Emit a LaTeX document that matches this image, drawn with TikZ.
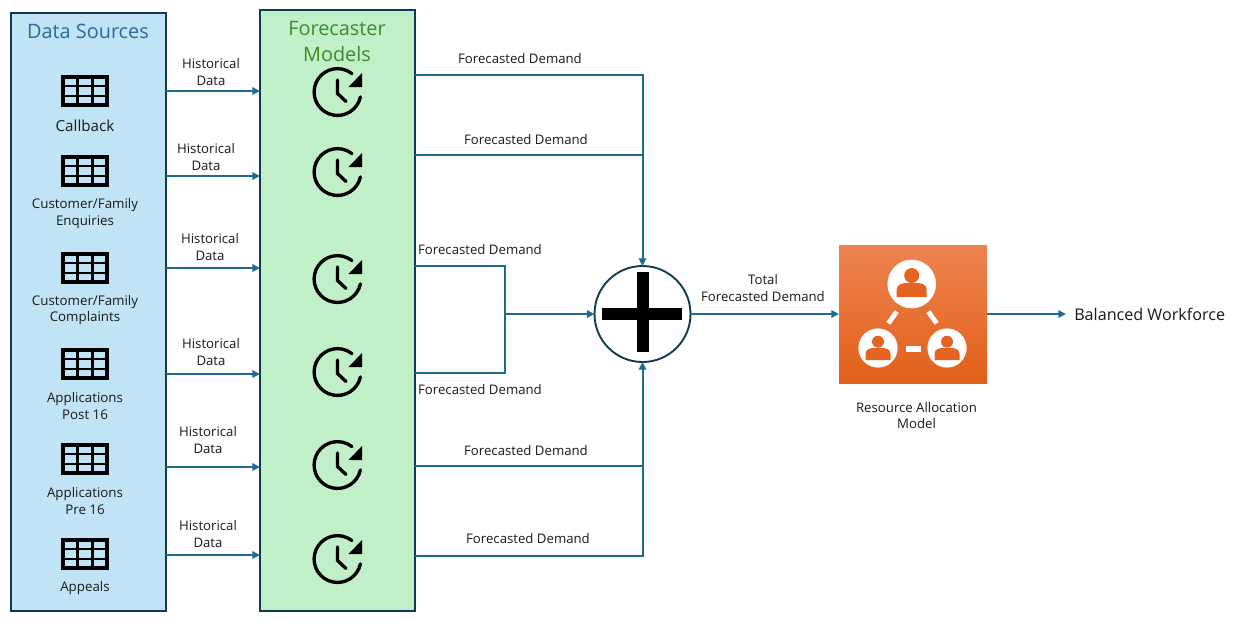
\documentclass[tikz,border=0pt]{standalone}
\usepackage{fontspec}
\setmainfont{Open Sans}
\usetikzlibrary{arrows.meta,calc}
\definecolor{flowc}{HTML}{1F6A8F}
\definecolor{edgec}{HTML}{0F3A4F}
\definecolor{dsfill}{HTML}{C0E4F5}
\definecolor{fmfill}{HTML}{C1F0C8}
\definecolor{dstitle}{HTML}{2A6A9E}
\definecolor{fmtitle}{HTML}{3F8A2A}
\definecolor{orangetop}{HTML}{EE8350}
\definecolor{orangebot}{HTML}{E2601A}
\definecolor{txt}{HTML}{1A1A1A}
\tikzset{
  x=0.75pt,y=-0.75pt,
  panel/.style={draw=edgec,line width=1.5pt,inner sep=0pt,outer sep=0pt,anchor=north west},
  flow/.style={draw=flowc,line width=1.5pt,-{Triangle[length=5.8pt,width=5.6pt]}},
  flowplain/.style={draw=flowc,line width=1.5pt},
  lbl/.style={align=center,text=txt,inner sep=0pt,font=\fontsize{9.9}{12.6}\selectfont},
  srclbl/.style={lbl,font=\fontsize{10}{12.6}\selectfont},
  title/.style={align=center,inner sep=0pt,font=\fontsize{14.9}{19.5}\selectfont},
  table icon/.pic={
    \draw[black,line width=2.6pt] (-22,-14) rectangle (22,14);
    \foreach \u in {-7.5,7.5}{\draw[black,line width=1.6pt] (\u,-14) -- (\u,14);}
    \foreach \v in {-4.7,4.7}{\draw[black,line width=1.6pt] (-22,\v) -- (22,\v);}
  },
  clock icon/.pic={
    \draw[black,line width=2.5pt,line cap=round] (22.9,4.9) arc[start angle=12,end angle=308,radius=23.4];
    \fill[black] (24.5,-19) -- (24.5,-5) -- (11,-5) -- cycle;
    \draw[black,line width=2.5pt,line cap=round] (0,-12) -- (0,1.5) -- (8.5,9.5);
  },
  person/.pic={
    \fill[orangebot!85!orangetop] (0,-8.5) circle[radius=7.5];
    \fill[orangebot!85!orangetop] (-15,13) -- (-15,5.5) .. controls (-15,1) and (-10,-1) .. (-6,-1) -- (6,-1) .. controls (10,-1) and (15,1) .. (15,5.5) -- (15,13) -- cycle;
  },
  person small/.pic={
    \fill[orangebot!85!orangetop] (0,-6.3) circle[radius=6];
    \fill[orangebot!85!orangetop] (-12.5,12) -- (-12.5,5.5) .. controls (-12.5,2) and (-8.5,0) .. (-5,0) -- (5,0) .. controls (8.5,0) and (12.5,2) .. (12.5,5.5) -- (12.5,12) -- cycle;
  }
}
\begin{document}
\begin{tikzpicture}
\useasboundingbox (0,0) rectangle (1238,626);
\fill[white] (0,0) rectangle (1238,626);

% panels
\node[panel,fill=dsfill,minimum width=155*0.75pt,minimum height=598*0.75pt] (ds) at (11,13) {};
\node[panel,fill=fmfill,minimum width=155*0.75pt,minimum height=601*0.75pt] (fm) at (260,10) {};
\node[title,text=dstitle] (dst) at (88,31) {Data Sources};
\node[title,text=fmtitle] (fmt) at (337,41.5) {Forecaster\\Models};

% tables
\foreach \n/\yy in {1/91,2/171,3/268,4/364,5/459,6/554}{
  \pic at (85,\yy) {table icon};
}
\node[lbl,font=\fontsize{11.4}{13}\selectfont] (s1) at (85,126) {Callback};
\node[srclbl] (s2) at (85,213.5) {Customer/Family\\Enquiries};
\node[srclbl] (s3) at (85,310) {Customer/Family\\Complaints};
\node[srclbl] (s4) at (85,406) {Applications\\Post 16};
\node[srclbl] (s5) at (85,501) {Applications\\Pre 16};
\node[srclbl] (s6) at (85,588.5) {Appeals};

% clocks
\foreach \n/\yy in {1/92,2/172,3/279,4/372,5/465,6/559}{
  \pic at (337.5,\yy) {clock icon};
}

% historical arrows
\foreach \yy/\lx/\ly in {91/211/72,176/206/157,268/210/247,374/211/352,467/208/440,555/208/534}{
  \draw[flow] (ds.east |- 0,\yy) -- (fm.west |- 0,\yy);
  \node[lbl] at (\lx,\ly) {Historical\\Data};
}

% adder
\node[circle,draw=edgec,fill=white,line width=1.4pt,minimum size=96*0.75pt,inner sep=0pt,outer sep=0pt] (add) at (642.5,314) {};
\fill[black] (602,308) rectangle (682,320);
\fill[black] (636.5,272) rectangle (648.5,352);

% resource allocation box
\node[panel,draw=none,shade,top color=orangetop,bottom color=orangebot,minimum width=148*0.75pt,minimum height=138*0.75pt] (ra) at (839,245) {};
\fill[white] (911.7,284) circle[radius=24.3];
\fill[white] (878,348) circle[radius=19.6];
\fill[white] (947,348) circle[radius=19.6];
\pic at (911.7,284) {person};
\pic at (878,348) {person small};
\pic at (947,348) {person small};
\draw[white,line width=3.6pt] (896.7,311.7) -- (888.3,323.3);
\draw[white,line width=3.6pt] (928.3,311.7) -- (936.7,323.3);
\draw[white,line width=4pt] (905.7,349) -- (920.7,349);

% forecast connectors
\draw[flow] (fm.east |- 0,75) -| (add.north);
\draw[flowplain] (fm.east |- 0,155) -- (add.north |- 0,155);
\draw[flow] (fm.east |- 0,556) -| (add.south);
\draw[flowplain] (fm.east |- 0,466) -- (add.south |- 0,466);
\draw[flowplain] (fm.east |- 0,266) -- (505,266) -- (505,373) -- (fm.east |- 0,373);
\draw[flow] (505,314) -- (add.west);
\node[lbl] at (520,59) {Forecasted Demand};
\node[lbl] at (526,140) {Forecasted Demand};
\node[lbl] at (480,250) {Forecasted Demand};
\node[lbl] at (480,389.5) {Forecasted Demand};
\node[lbl] at (526,451) {Forecasted Demand};
\node[lbl] at (528,538.5) {Forecasted Demand};

% output
\draw[flow] (add.east) -- (ra.west);
\node[lbl] at (763,288) {Total\\Forecasted Demand};
\node[lbl] at (916.5,415.5) {Resource Allocation\\Model};
\node[lbl,font=\fontsize{12.1}{14}\selectfont,anchor=west] (bw) at (1074,314.5) {Balanced Workforce};
\draw[flow] (ra.east) -- (ra.east -| 1066,0);
\end{tikzpicture}
\end{document}
